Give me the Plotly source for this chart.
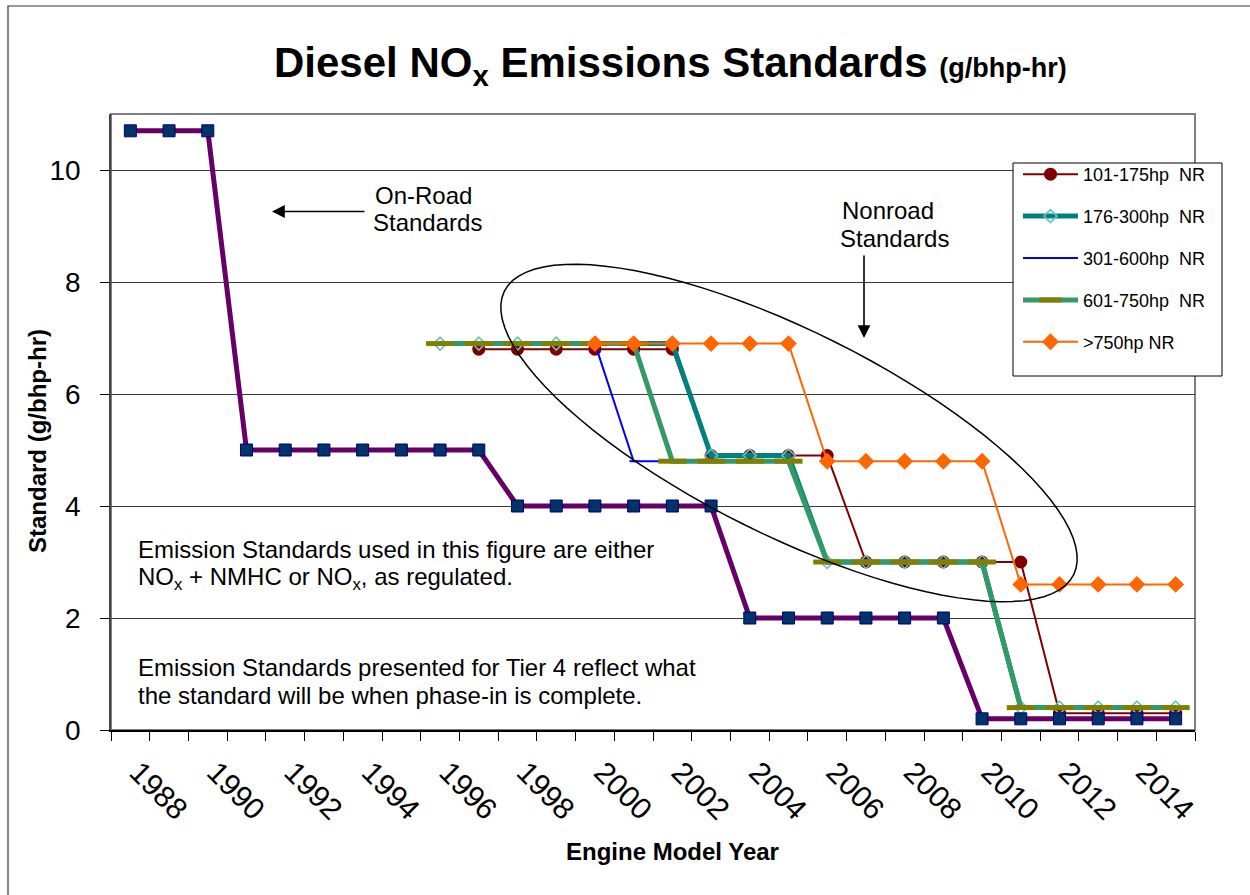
import math
import plotly.graph_objects as go

# ---------------- data ----------------
years = [1988, 1989, 1990, 1991, 1992, 1993, 1994, 1995, 1996, 1997,
         1998, 1999, 2000, 2001, 2002, 2003, 2004, 2005, 2006, 2007,
         2008, 2009, 2010, 2011, 2012, 2013, 2014, 2015]

on_road = [10.7, 10.7, 10.7, 5.0, 5.0, 5.0, 5.0, 5.0, 5.0, 5.0,
           4.0, 4.0, 4.0, 4.0, 4.0, 4.0, 2.0, 2.0, 2.0, 2.0,
           2.0, 2.0, 0.2, 0.2, 0.2, 0.2, 0.2, 0.2]

hp101_175 = [None, None, None, None, None, None, None, None, None, 6.8,
             6.8, 6.8, 6.8, 6.8, 6.8, 4.9, 4.9, 4.9, 4.9, 3.0,
             3.0, 3.0, 3.0, 3.0, 0.3, 0.3, 0.3, 0.3]

hp176_300 = [None, None, None, None, None, None, None, None, 6.9, 6.9,
             6.9, 6.9, 6.9, 6.9, 6.9, 4.9, 4.9, 4.9, 3.0, 3.0,
             3.0, 3.0, 3.0, 0.4, 0.4, 0.4, 0.4, 0.4]

hp301_600 = [None, None, None, None, None, None, None, None, 6.9, 6.9,
             6.9, 6.9, 6.9, 4.8, 4.8, 4.8, 4.8, 4.8, 3.0, 3.0,
             3.0, 3.0, 3.0, 0.4, 0.4, 0.4, 0.4, 0.4]

hp601_750 = [None, None, None, None, None, None, None, None, 6.9, 6.9,
             6.9, 6.9, 6.9, 6.9, 4.8, 4.8, 4.8, 4.8, 3.0, 3.0,
             3.0, 3.0, 3.0, 0.4, 0.4, 0.4, 0.4, 0.4]

hp750 = [None, None, None, None, None, None, None, None, None, None,
         None, None, 6.9, 6.9, 6.9, 6.9, 6.9, 6.9, 4.8, 4.8,
         4.8, 4.8, 4.8, 2.6, 2.6, 2.6, 2.6, 2.6]

tick_years = [1988, 1990, 1992, 1994, 1996, 1998, 2000, 2002, 2004,
              2006, 2008, 2010, 2012, 2014]
y_ticks = [0, 2, 4, 6, 8, 10]

# ---------------- layout geometry (pixels) ----------------
W, H = 1250, 895
L, R, T, B = 111, 55, 114, 165
PW, PH = W - L - R, H - T - B
FONT = "Liberation Sans, Arial, sans-serif"


def px(x):
    return (x - L) / PW


def py(y):
    return (T + PH - y) / PH


fig = go.Figure()

fig.add_trace(go.Scatter(
    x=years, y=hp101_175, name="101-175hp\u00a0 NR", mode="lines+markers",
    line=dict(color="#800000", width=2),
    marker=dict(symbol="circle", size=13, color="#800000"),
    legendgroup="a"))
fig.add_trace(go.Scatter(
    x=years, y=hp176_300, name="176-300hp\u00a0 NR", mode="lines+markers",
    line=dict(color="#008080", width=5),
    marker=dict(symbol="diamond-open", size=10, color="#66c2c2",
                line=dict(width=1.5)),
    legendgroup="b"))
fig.add_trace(go.Scatter(
    x=years, y=hp301_600, name="301-600hp\u00a0 NR", mode="lines+markers",
    line=dict(color="#0000ff", width=2),
    marker=dict(symbol="line-ew-open", size=6, color="#0000ff",
                line=dict(width=2)),
    legendgroup="c"))
fig.add_trace(go.Scatter(
    x=years, y=hp601_750, name="601-750hp\u00a0 NR", mode="lines+markers",
    line=dict(color="#339966", width=5),
    marker=dict(symbol="line-ew-open", size=20, color="#808000",
                line=dict(width=5)),
    legendgroup="d"))
fig.add_trace(go.Scatter(
    x=years, y=hp750, name=">750hp NR", mode="lines+markers",
    line=dict(color="#ff6600", width=2),
    marker=dict(symbol="diamond", size=13, color="#ff6600"),
    legendgroup="e"))
fig.add_trace(go.Scatter(
    x=years, y=on_road, name="On-Road", mode="lines+markers",
    line=dict(color="#660066", width=5),
    marker=dict(symbol="square", size=12, color="#003366",
                line=dict(color="#000080", width=1)),
    showlegend=False))

# ellipse around nonroad standards (decorative shape)
cx, cy, a, b, th = 789, 433, 318, 102, math.radians(26.5)
pts = []
for k in range(97):
    t = 2 * math.pi * k / 96
    ex = cx + a * math.cos(t) * math.cos(th) - b * math.sin(t) * math.sin(th)
    ey = cy + a * math.cos(t) * math.sin(th) + b * math.sin(t) * math.cos(th)
    pts.append((px(ex), py(ey)))
path = "M " + " L ".join(f"{x:.5f},{y:.5f}" for x, y in pts) + " Z"

shapes = [
    dict(type="rect", xref="paper", yref="paper", x0=0, x1=1, y0=0, y1=1,
         line=dict(color="#808080", width=2), layer="below"),
    dict(type="rect", xref="paper", yref="paper", x0=px(8), x1=px(1270),
         y0=py(920), y1=py(6), line=dict(color="#333333", width=1.2),
         layer="below"),
    dict(type="path", xref="paper", yref="paper", path=path,
         line=dict(color="black", width=1.5), layer="above"),
    # legend box
    dict(type="rect", xref="paper", yref="paper", x0=px(1013), x1=px(1222),
         y0=py(376), y1=py(163), line=dict(color="black", width=1),
         fillcolor="white", layer="above"),
]

annotations = [
    dict(text="<b>Diesel NO<sub>x</sub> Emissions Standards</b> "
              "<b><span style='font-size:27px'>(g/bhp-hr)</span></b>",
         x=px(272), y=py(66), xref="paper", yref="paper",
         xanchor="left", yanchor="middle", showarrow=False,
         font=dict(size=42, family=FONT, color="black")),
    dict(text="<b>Engine Model Year</b>", x=px(672), y=py(851),
         xref="paper", yref="paper", xanchor="center", yanchor="middle",
         showarrow=False, font=dict(size=24, family=FONT, color="black")),
    dict(text="<b>Standard (g/bhp-hr)</b>", x=px(37), y=py(441),
         xref="paper", yref="paper", xanchor="center", yanchor="middle",
         showarrow=False, textangle=-90,
         font=dict(size=24, family=FONT, color="black")),
    dict(text="On-Road", x=px(373), y=py(195.5), xref="paper", yref="paper",
         xanchor="left", yanchor="middle", showarrow=False,
         font=dict(size=24, family=FONT)),
    dict(text="Standards", x=px(371), y=py(222.5), xref="paper", yref="paper",
         xanchor="left", yanchor="middle", showarrow=False,
         font=dict(size=24, family=FONT)),
    dict(text="Nonroad", x=px(840), y=py(210), xref="paper", yref="paper",
         xanchor="left", yanchor="middle", showarrow=False,
         font=dict(size=24, family=FONT)),
    dict(text="Standards", x=px(838), y=py(238), xref="paper", yref="paper",
         xanchor="left", yanchor="middle", showarrow=False,
         font=dict(size=24, family=FONT)),
    dict(text="", x=px(272), y=py(211.5), xref="paper", yref="paper",
         showarrow=True, ax=94, ay=0, arrowhead=2, arrowsize=1.6,
         arrowwidth=1.6, arrowcolor="black"),
    dict(text="", x=px(864), y=py(338), xref="paper", yref="paper",
         showarrow=True, ax=0, ay=-84, arrowhead=2, arrowsize=1.6,
         arrowwidth=1.6, arrowcolor="black"),
]

body = [
    ("Emission Standards used in this figure are either", 549),
    ("NO<sub>x</sub> + NMHC or NO<sub>x</sub>, as regulated.", 578),
    ("Emission Standards presented for Tier 4 reflect what", 667),
    ("the standard will be when phase-in is complete.", 695),
]
for txt, yy in body:
    annotations.append(dict(text=txt, x=px(136), y=py(yy), xref="paper",
                            yref="paper", xanchor="left", yanchor="middle",
                            showarrow=False,
                            font=dict(size=24, family=FONT, color="black")))

fig.update_layout(
    width=W, height=H,
    margin=dict(l=L, r=R, t=T, b=B, pad=0),
    paper_bgcolor="white", plot_bgcolor="white",
    font=dict(family=FONT, color="black"),
    showlegend=True,
    legend=dict(x=px(1018), y=py(156), xanchor="left", yanchor="top",
                bgcolor="rgba(0,0,0,0)", borderwidth=0,
                font=dict(size=18, family=FONT, color="black"),
                traceorder="grouped", tracegroupgap=15.5,
                itemwidth=55),
    shapes=shapes,
    annotations=annotations,
    hovermode=False,
)

fig.update_xaxes(
    range=[1987.5, 2015.5], tickmode="array", tickvals=tick_years,
    ticktext=[str(y) for y in tick_years], tickangle=45,
    ticks="outside", ticklen=11, tickcolor="rgba(0,0,0,0)",
    ticklabelshift=8,
    tickfont=dict(size=30, family=FONT, color="black"),
    showgrid=False, zeroline=False, showline=True, linecolor="black",
    linewidth=1.5,
    minor=dict(tickmode="array",
               tickvals=[y - 0.5 for y in years] + [2015.5],
               ticks="outside", ticklen=9, tickcolor="black", tickwidth=1,
               showgrid=False),
)
fig.update_yaxes(
    range=[0, 11], tickmode="array", tickvals=y_ticks,
    ticks="outside", ticklen=9, tickcolor="black", tickwidth=1,
    ticklabelstandoff=14,
    tickfont=dict(size=28, family=FONT, color="black"),
    showgrid=True, gridcolor="#3a3a3a", gridwidth=1,
    zeroline=False, showline=True, linecolor="#444444", linewidth=1.5,
)

fig.write_html("out.html", config={"displayModeBar": False},
               post_script="document.body.style.margin='0px';")
